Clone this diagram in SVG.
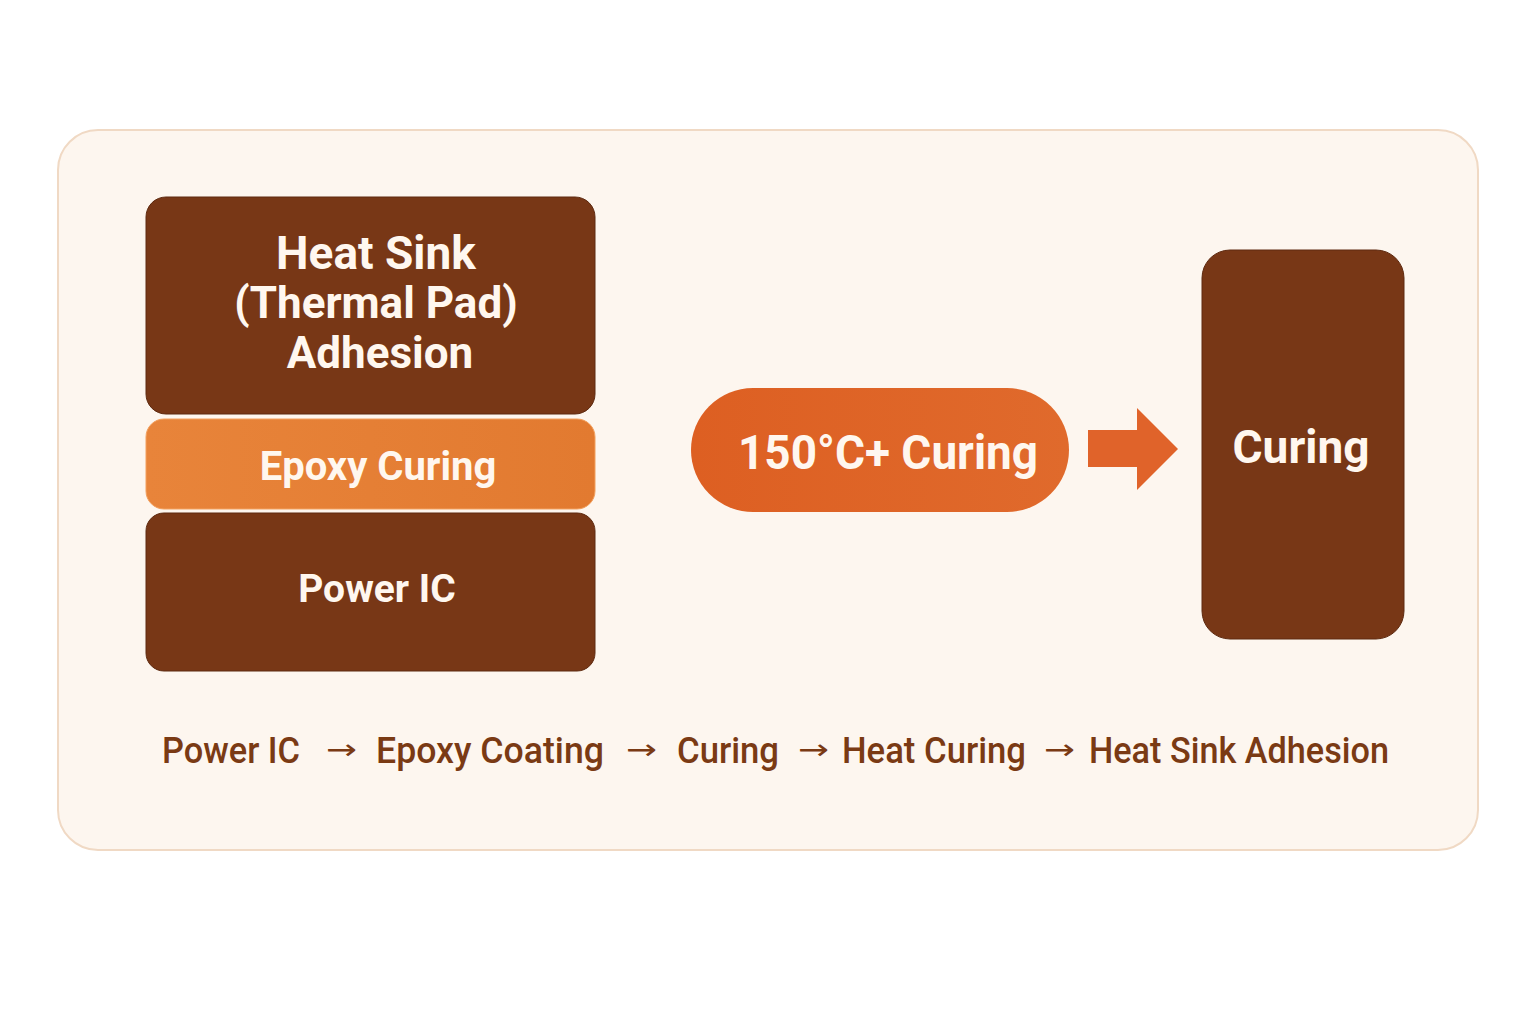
<svg xmlns="http://www.w3.org/2000/svg" width="1536" height="1024" viewBox="0 0 1536 1024">
<defs>
<linearGradient id="epoxyGrad" x1="0" y1="0" x2="1" y2="0">
<stop offset="0" stop-color="#e8843a"/><stop offset="1" stop-color="#e27a30"/>
</linearGradient>
<linearGradient id="pillGrad" x1="0" y1="0" x2="1" y2="0">
<stop offset="0" stop-color="#dd5f22"/><stop offset="1" stop-color="#e06a2c"/>
</linearGradient>
<style>
.dark{fill:#783716;stroke:#5e2a10;stroke-width:1}
.lbl{font-family:Roboto,"Liberation Sans",sans-serif;font-weight:700;fill:#fff7ef;text-anchor:middle}
.flow{font-family:Roboto,"Liberation Sans",sans-serif;font-weight:500;fill:#7a3a14;font-size:36px}
.arr{font-family:"DejaVu Sans",sans-serif;fill:#7a3a14;font-size:28px}
</style>
</defs>
<rect width="1536" height="1024" fill="#ffffff"/>
<rect x="58" y="130" width="1420" height="720" rx="40" fill="#fdf6ef" stroke="#f0d9c4" stroke-width="2"/>
<g id="heat-sink">
<rect class="dark" x="146" y="197" width="449" height="217" rx="20"/>
<text class="lbl" font-size="46" x="376" y="269">Heat Sink</text>
<text class="lbl" font-size="44" x="376" y="318">(Thermal Pad)</text>
<text class="lbl" font-size="44" x="380" y="368">Adhesion</text>
</g>
<g id="epoxy">
<rect x="146" y="419" width="449" height="90" rx="18" fill="url(#epoxyGrad)" stroke="#f2a05e" stroke-width="1"/>
<text class="lbl" font-size="40" x="378" y="480">Epoxy Curing</text>
</g>
<g id="power-ic">
<rect class="dark" x="146" y="513" width="449" height="158" rx="18"/>
<text class="lbl" font-size="39" x="377" y="602">Power IC</text>
</g>
<g id="curing-temp">
<rect x="691" y="388" width="378" height="124" rx="62" fill="url(#pillGrad)"/>
<text class="lbl" font-size="48" x="888" y="469" textLength="300" lengthAdjust="spacingAndGlyphs">150°C+ Curing</text>
</g>
<g id="connectors">
<polygon points="1088,430 1137,430 1137,408 1178,449 1137,490 1137,467 1088,467" fill="#e0632a"/>
</g>
<g id="curing">
<rect class="dark" x="1202" y="250" width="202" height="389" rx="28"/>
<text class="lbl" font-size="46" x="1301" y="463">Curing</text>
</g>
<g id="flow-text">
<text class="flow" x="162" y="763" textLength="138" lengthAdjust="spacingAndGlyphs">Power IC</text>
<text class="arr" x="326" y="759" textLength="31" lengthAdjust="spacingAndGlyphs">→</text>
<text class="flow" x="376" y="763" textLength="228" lengthAdjust="spacingAndGlyphs">Epoxy Coating</text>
<text class="arr" x="626" y="759" textLength="31" lengthAdjust="spacingAndGlyphs">→</text>
<text class="flow" x="677" y="763" textLength="102" lengthAdjust="spacingAndGlyphs">Curing</text>
<text class="arr" x="798" y="759" textLength="31" lengthAdjust="spacingAndGlyphs">→</text>
<text class="flow" x="842" y="763" textLength="184" lengthAdjust="spacingAndGlyphs">Heat Curing</text>
<text class="arr" x="1044" y="759" textLength="31" lengthAdjust="spacingAndGlyphs">→</text>
<text class="flow" x="1089" y="763" textLength="300" lengthAdjust="spacingAndGlyphs">Heat Sink Adhesion</text>
</g>
</svg>
